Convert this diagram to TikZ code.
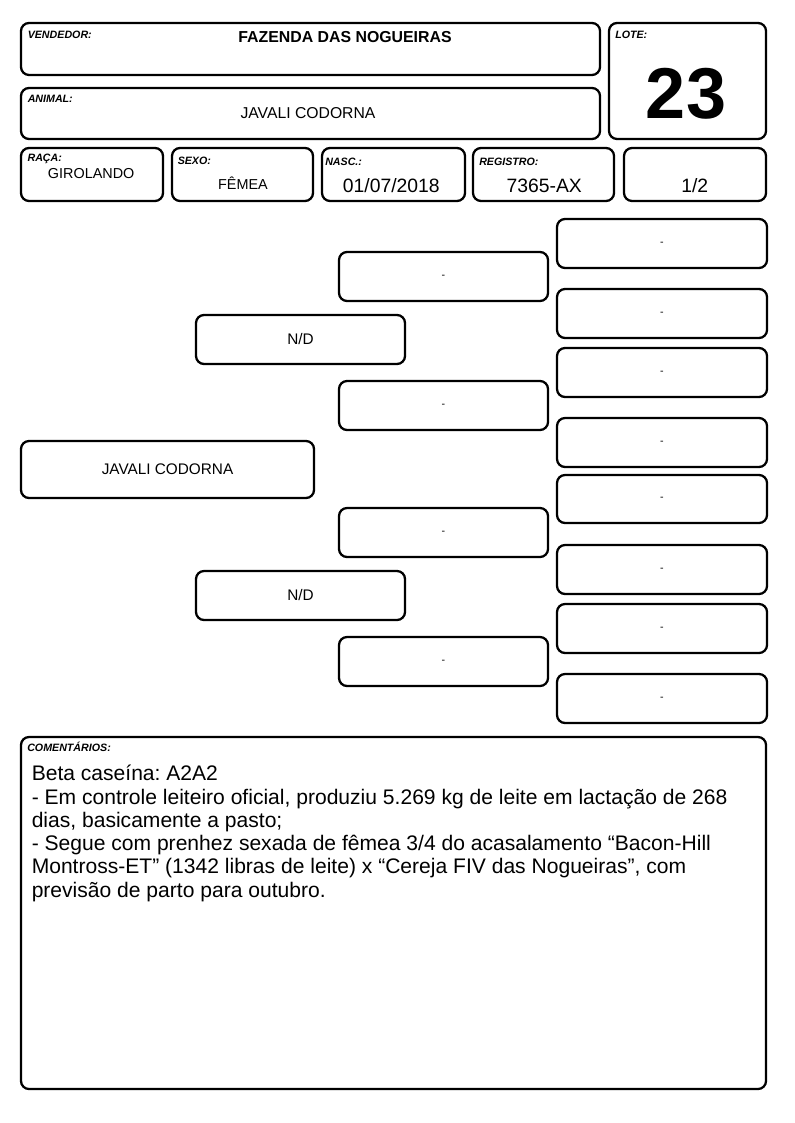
\documentclass[tikz,border=0pt]{standalone}
\usepackage{fontspec}
\setmainfont{Liberation Sans}
\frenchspacing
\begin{document}
\begin{tikzpicture}[x=0.75pt,y=-0.75pt,
  box/.style={draw=black, line width=1.7pt, rounded corners=6pt, inner sep=0pt, fill=white},
  lbl/.style={anchor=base west, inner sep=0pt, font=\fontsize{8}{9.6}\selectfont\bfseries\itshape},
  val/.style={anchor=base, inner sep=0pt},
  ped/.style={font=\fontsize{11.5}{13.8}\selectfont},
  dashtxt/.style={font=\fontsize{8}{9.6}\selectfont},
  cmt/.style={anchor=base west, inner sep=0pt, font=\fontsize{15.8}{17.5}\selectfont}
]
\newcommand{\bx}[7][]{\node[box,#1,minimum width={(#5-#3)*0.75pt},minimum height={(#6-#4)*0.75pt}] (#2) at ({(#3+#5)/2},{(#4+#6)/2}) {#7};}
\useasboundingbox[fill=white] (0,0) rectangle (794,1123);

% header boxes
\bx{vend}{21}{23}{600}{75}{}
\bx{anim}{21}{88}{600}{139}{}
\bx{lote}{609}{23}{766}{139}{}
\bx{raca}{21}{148}{163}{201}{}
\bx{sexo}{172}{148}{313}{201}{}
\bx{nasc}{322}{148}{465}{201}{}
\bx{reg}{473}{148}{614}{201}{}
\bx{frac}{624}{148}{766}{201}{}

% header texts
\node[lbl] (lv) at (27.5,39) {VENDEDOR:};
\node[val,font=\fontsize{11.9}{14}\selectfont\bfseries] (tv) at (345,42.7) {FAZENDA DAS NOGUEIRAS};
\node[lbl] (la) at (27.5,102.3) {ANIMAL:};
\node[val,font=\fontsize{11.8}{14}\selectfont] (ta) at (308,119) {JAVALI CODORNA};
\node[lbl] (ll) at (615,39) {LOTE:};
\node[val,font=\fontsize{54}{60}\selectfont\bfseries] (tl) at (686,118.3) {23};
\node[lbl] (lr) at (27.3,161.7) {RAÇA:};
\node[val,font=\fontsize{10.8}{13}\selectfont] (tr) at (91.2,178.3) {GIROLANDO};
\node[lbl] (ls) at (177.5,165) {SEXO:};
\node[val,font=\fontsize{10.8}{13}\selectfont] (ts) at (243,189.3) {FÊMEA};
\node[lbl] (ln) at (325,165.7) {NASC.:};
\node[val,font=\fontsize{14.5}{17}\selectfont] (tn) at (391.3,192.7) {01/07/2018};
\node[lbl] (lg) at (479,165.7) {REGISTRO:};
\node[val,font=\fontsize{14.5}{17}\selectfont] (tg) at (544.2,192.7) {7365-AX};
\node[val,font=\fontsize{14.5}{17}\selectfont] (tf) at (694.8,192.7) {1/2};

% pedigree
\bx[ped]{p0}{21}{441}{314}{498}{JAVALI CODORNA}
\bx[ped]{p1}{196}{315}{405}{364}{N/D}
\bx[ped]{p2}{196}{571}{405}{620}{N/D}
\bx[dashtxt]{g1}{339}{252}{548}{301}{-}
\bx[dashtxt]{g2}{339}{381}{548}{430}{-}
\bx[dashtxt]{g3}{339}{508}{548}{557}{-}
\bx[dashtxt]{g4}{339}{637}{548}{686}{-}
\bx[dashtxt]{h1}{557}{219}{767}{268}{-}
\bx[dashtxt]{h2}{557}{289}{767}{338}{-}
\bx[dashtxt]{h3}{557}{348}{767}{397}{-}
\bx[dashtxt]{h4}{557}{418}{767}{467}{-}
\bx[dashtxt]{h5}{557}{475}{767}{523}{-}
\bx[dashtxt]{h6}{557}{545}{767}{594}{-}
\bx[dashtxt]{h7}{557}{604}{767}{653}{-}
\bx[dashtxt]{h8}{557}{674}{767}{723}{-}

% comments
\bx{com}{21}{737}{766}{1089}{}
\node[lbl] (lc) at (27,751.7) {COMENTÁRIOS:};
\node[cmt] (c1) at (31.5,780.7) {Beta caseína: A2A2};
\node[cmt] (c2) at (31.5,804) {- Em controle leiteiro oficial, produziu 5.269 kg de leite em lactação de 268};
\node[cmt] (c3) at (31.5,827.3) {dias, basicamente a pasto;};
\node[cmt] (c4) at (31.5,850.6) {- Segue com prenhez sexada de fêmea 3/4 do acasalamento “Bacon-Hill};
\node[cmt] (c5) at (31.5,873.9) {Montross-ET” (1342 libras de leite) x “Cereja FIV das Nogueiras”, com};
\node[cmt] (c6) at (31.5,897.2) {previsão de parto para outubro.};
\end{tikzpicture}
\end{document}
